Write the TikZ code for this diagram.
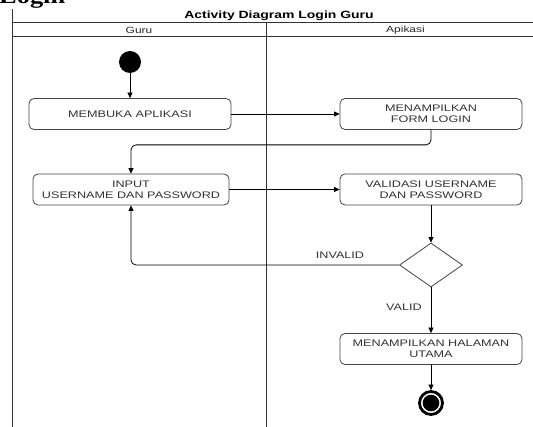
\documentclass[tikz,border=0pt]{standalone}
\usepackage{fontspec}
\setmainfont{Liberation Sans}[FakeStretch=1.33]
\newfontfamily\headserif{Liberation Serif}[FakeStretch=1.2]
\usetikzlibrary{shapes.geometric,arrows.meta}

\definecolor{ink}{HTML}{333333}
\definecolor{rim}{HTML}{444444}

\tikzset{
  frameline/.style={draw=ink, line width=1pt},
  actbox/.style={draw=rim, line width=0.8pt, rounded corners=5pt, fill=white,
    align=center, inner sep=0pt, minimum height=31pt, text=ink,
    font=\fontsize{9.5}{11}\selectfont},
  decbox/.style={diamond, draw=rim, line width=0.8pt, inner sep=0pt,
    minimum width=63pt, minimum height=44pt},
  flow/.style={draw=black, line width=0.8pt, -{Triangle[length=5.5pt,width=5pt]}},
  guard/.style={text=ink, font=\fontsize{9.5}{11}\selectfont, inner sep=0pt},
  lanetitle/.style={text=black!85, font=\fontsize{9}{10}\selectfont, inner sep=0pt},
}

\begin{document}
\begin{tikzpicture}[x=1pt,y=-1pt]
\useasboundingbox (0,0) rectangle (533,427);
\fill[white] (0,0) rectangle (533,427);

% page heading above the diagram
\node[anchor=base west, inner sep=0pt, font=\headserif\bfseries\fontsize{22}{22}\selectfont]
  (heading) at (-1,4) {Login};

% swimlane frame
\draw[frameline] (12.5,9) -- (12.5,440);
\draw[frameline] (12.5,23) -- (545,23);
\draw[frameline] (12.5,37) -- (545,37);
\draw[frameline] (266,23) -- (266,440);

\node[text=black, inner sep=0pt, font=\bfseries\fontsize{10.5}{12}\selectfont]
  (title) at (279,15.5) {Activity Diagram Login Guru};
\node[lanetitle] (laneA) at (139,30.5) {Guru};
\node[lanetitle] (laneB) at (405.5,30.5) {Apikasi};

% activities
\node[circle, fill=black, minimum size=22pt, inner sep=0pt] (start) at (130,62) {};
\node[actbox, minimum width=202pt] (open) at (130,114) {MEMBUKA APLIKASI};
\node[actbox, minimum width=182pt] (form) at (431,114) {MENAMPILKAN\\FORM LOGIN};
\node[actbox, minimum width=196pt] (input) at (131,189.5) {INPUT\\USERNAME DAN PASSWORD};
\node[actbox, minimum width=182pt] (check) at (431,189.5) {VALIDASI USERNAME\\DAN PASSWORD};
\node[decbox] (dec) at (431,265) {};
\node[actbox, minimum width=182pt] (home) at (431,349) {MENAMPILKAN HALAMAN\\UTAMA};
\node[circle, draw=black, line width=2.8pt, minimum size=23pt, inner sep=0pt] (stop) at (431,403) {};
\fill[black] (stop.center) circle (8.3pt);

% control flow
\draw[flow] (start) -- (open);
\draw[flow] (open) -- (form);
\draw[flow, rounded corners=5pt] (form.south) -- ++(0,15) -| (input.north);
\draw[flow] (input) -- (check);
\draw[flow] (check) -- (dec);
\draw[flow, rounded corners=5pt] (dec.west) -| (input.south);
\draw[flow] (dec) -- (home);
\draw[flow] (home) -- (stop);

% guards
\node[guard] (invalid) at (340,255) {INVALID};
\node[guard] (valid) at (404,307) {VALID};
\end{tikzpicture}
\end{document}
